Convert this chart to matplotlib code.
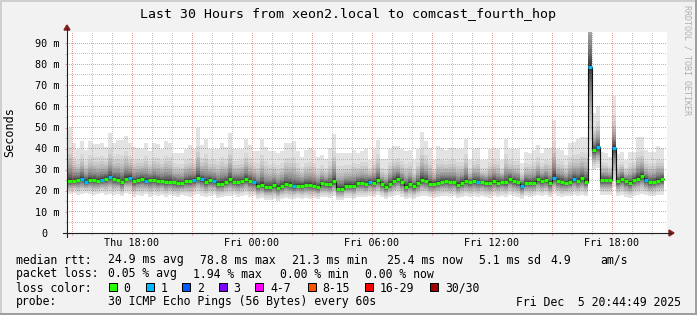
import numpy as np
import matplotlib
matplotlib.use("Agg")
import matplotlib.pyplot as plt
from matplotlib import transforms
from matplotlib.patches import Rectangle, Polygon
from matplotlib.lines import Line2D

plt.rcParams['font.family'] = 'DejaVu Sans Mono'

# median rtt per 12 minute step (ms)
median_ms = [
    24.6, 24.6, 25.1, 25.7, 24.3, 25.1, 25.1, 24.8, 25.1, 25.6,
    26.4, 25.4, 25.1, 24.0, 25.7, 26.2, 24.5, 25.0, 25.6, 24.8,
    25.1, 25.1, 24.5, 24.6, 24.2, 24.3, 24.0, 23.7, 23.5, 24.6,
    24.6, 25.0, 25.9, 25.4, 24.2, 25.0, 24.5, 23.4, 23.4, 24.2,
    25.4, 24.2, 24.2, 24.6, 25.4, 24.5, 24.0, 22.3, 22.8, 21.6,
    21.6, 22.6, 21.5, 22.3, 23.2, 22.8, 22.1, 22.4, 22.4, 22.8,
    22.8, 22.3, 21.8, 23.5, 23.2, 23.0, 24.5, 21.0, 21.0, 22.4,
    22.4, 22.4, 23.7, 23.7, 23.2, 24.3, 23.8, 25.1, 23.2, 21.9,
    23.2, 24.8, 25.7, 24.0, 21.9, 23.2, 22.1, 23.5, 25.1, 24.8,
    23.4, 23.4, 23.8, 24.3, 24.6, 24.3, 24.2, 22.9, 23.7, 24.6,
    24.0, 24.6, 24.3, 24.2, 23.8, 23.7, 24.6, 23.8, 24.2, 24.0,
    25.4, 24.5, 24.0, 22.3, 23.8, 23.8, 23.8, 25.4, 24.6, 25.1,
    23.5, 26.2, 24.8, 24.2, 23.8, 24.2, 25.6, 24.8, 25.9, 24.3,
    78.8, 39.3, 40.6, 25.0, 25.0, 25.0, 40.4, 24.5, 25.6, 24.5,
    23.7, 25.1, 25.7, 27.0, 25.1, 24.0, 24.3, 24.8, 25.4,
]

# slowest and fastest ping of each step (top / bottom of the smoke)
smoke_hi = [
    49.6, 42.8, 40.0, 43.7, 39.5, 43.7, 42.0, 42.0, 42.8, 40.9,
    47.5, 42.8, 44.2, 44.2, 46.1, 42.5, 40.6, 40.5, 40.0, 42.8,
    39.0, 42.5, 42.0, 40.0, 43.7, 42.8, 38.0, 38.0, 38.0, 40.0,
    41.5, 40.0, 49.9, 41.5, 44.7, 40.0, 40.0, 40.0, 42.8, 40.9,
    47.5, 40.0, 40.0, 40.0, 44.7, 41.5, 39.0, 39.0, 44.7, 40.9,
    39.0, 39.0, 38.0, 39.0, 42.8, 42.8, 43.7, 39.0, 36.2, 39.3,
    40.1, 39.3, 36.2, 37.0, 34.9, 40.1, 47.0, 38.1, 38.1, 37.7,
    38.1, 39.3, 37.7, 39.0, 39.6, 34.6, 39.6, 44.1, 34.9, 34.9,
    39.6, 41.2, 41.2, 39.6, 38.8, 39.3, 34.6, 39.6, 48.0, 43.6,
    40.4, 34.6, 41.2, 40.4, 39.3, 40.4, 40.4, 39.6, 39.6, 44.8,
    34.6, 39.6, 40.4, 34.6, 34.6, 39.6, 40.4, 39.6, 34.6, 44.8,
    39.6, 39.6, 39.6, 33.0, 38.5, 38.0, 39.3, 41.7, 37.7, 40.1,
    40.1, 53.5, 39.8, 39.5, 37.1, 42.6, 43.3, 44.8, 45.6, 45.6,
    140.0, 56.7, 60.2, 38.5, 38.0, 35.8, 64.9, 37.5, 38.5, 34.6,
    38.5, 38.5, 45.6, 45.6, 39.5, 38.5, 38.5, 41.2, 40.1,
]
smoke_lo = [
    18.5, 19.0, 18.0, 18.5, 19.0, 18.5, 18.0, 18.5, 19.0, 18.0,
    18.5, 18.0, 18.5, 17.5, 19.0, 18.5, 17.0, 18.0, 17.5, 18.5,
    17.0, 18.0, 17.5, 18.0, 17.0, 18.0, 17.5, 17.0, 18.0, 17.5,
    17.0, 18.0, 18.5, 17.5, 17.0, 17.5, 18.0, 16.5, 17.0, 17.5,
    17.5, 18.0, 17.0, 17.5, 18.0, 17.0, 17.5, 16.0, 16.5, 15.5,
    15.5, 16.0, 15.0, 16.0, 16.5, 16.0, 16.0, 16.5, 16.0, 16.5,
    16.0, 16.5, 16.0, 17.0, 17.0, 16.5, 17.5, 15.5, 15.5, 16.5,
    16.5, 16.0, 17.0, 17.0, 17.0, 17.5, 17.0, 18.0, 17.0, 16.0,
    17.0, 17.5, 18.0, 17.0, 16.0, 16.5, 16.0, 17.0, 17.5, 17.5,
    17.0, 16.5, 17.0, 17.5, 17.5, 17.0, 17.5, 16.5, 17.0, 17.5,
    17.0, 17.5, 17.0, 17.5, 17.0, 16.5, 17.5, 17.0, 17.5, 17.0,
    18.0, 17.5, 17.0, 16.0, 17.5, 17.0, 17.5, 18.0, 17.5, 18.0,
    17.0, 18.5, 17.5, 17.0, 17.5, 17.5, 18.0, 17.5, 18.0, 17.5,
    36.0, 30.0, 31.0, 18.0, 18.0, 18.0, 22.0, 17.5, 18.0, 17.0,
    16.5, 17.5, 18.0, 18.5, 18.0, 17.5, 17.5, 18.0, 18.0,
]

# steps that lost 1 of 30 pings (drawn blue)
loss_one_steps = [3, 4, 8, 10, 15, 19, 31, 33, 36, 46, 56, 75, 102, 113,
                  121, 126, 130, 132, 136, 144]

# how far each ping pair sits between median and extreme (outer -> inner)
smoke_up_frac = [1.0, 0.64, 0.52, 0.43, 0.36, 0.30, 0.25, 0.21, 0.17, 0.14,
                 0.11, 0.08, 0.06, 0.04, 0.02]
smoke_dn_frac = [1.0, 0.82, 0.70, 0.60, 0.52, 0.45, 0.38, 0.32, 0.27, 0.22,
                 0.17, 0.13, 0.09, 0.05, 0.02]

tick_labels = ["Thu 18:00", "Fri 00:00", "Fri 06:00", "Fri 12:00", "Fri 18:00"]
loss_names = ["0", "1", "2", "3", "4-7", "8-15", "16-29", "30/30"]
loss_colors = ["#26ff00", "#00b8ff", "#0059ff", "#7e00ff", "#ff00ff",
               "#ff5500", "#ff0000", "#a10000"]

# time axis: hours since graph start (Thu 14:44:49), 12 minute steps
first_boundary = 0.0531      # 14:48
first_hour = 0.2531          # 15:00
step_h = 0.2
span_h = 30.0
y_top = 95.3

W, H = 697, 315
X0, X1, Y0, YT = 67, 667, 233, 32

def fx(x):
    return x / W

def fy(y):
    return 1 - y / H

fig = plt.figure(figsize=(W / 100, H / 100), dpi=100, facecolor='#f2f2f2')
ax = fig.add_axes([fx(X0), fy(Y0), (X1 - X0) / W, (Y0 - YT) / H])
ax.set_facecolor('white')
for s in ax.spines.values():
    s.set_visible(False)

med = np.array(median_ms)
hi = np.array(smoke_hi)
lo = np.array(smoke_lo)
n = len(med)
edges = first_boundary + step_h * np.arange(n + 1)
edges[0] = 0.0

# smoke
for i in range(15):
    g = (190 / 15 * (15 - (i + 1)) + 50) / 255
    up = med + smoke_up_frac[i] * (hi - med)
    dn = med - smoke_dn_frac[i] * (med - lo)
    ax.fill_between(edges, np.append(dn, dn[-1]), np.append(up, up[-1]),
                    step='post', color=(g, g, g), lw=0, antialiased=False,
                    zorder=1)

# dotted grid, pixel exact (1 on / 1 off)
gh, gw = Y0 - YT, X1 - X0
grid_rgba = np.zeros((gh, gw, 4))
minor_c = (0.56, 0.56, 0.56, 0.5)
major_c = (0.87, 0.31, 0.31, 0.55)
x_major = np.arange(first_hour, span_h, 3)
x_minor = np.arange(first_hour, span_h, 1)
for v in np.arange(5, 95, 10):
    grid_rgba[int((y_top - v) / y_top * gh), ::2] = minor_c
for t in x_minor:
    grid_rgba[1::2, int(t / span_h * gw)] = minor_c
for v in np.arange(10, 95, 10):
    grid_rgba[int((y_top - v) / y_top * gh), ::2] = major_c
for t in x_major:
    grid_rgba[1::2, int(t / span_h * gw)] = major_c
ax.imshow(grid_rgba, extent=(0, span_h, 0, y_top), aspect='auto',
          interpolation='nearest', zorder=1.5)

# median: thin dark step line, then colored bands per step
ax.plot(edges, np.append(med, med[-1]), drawstyle='steps-post',
        color='#101010', lw=0.8, zorder=2)
cols = [loss_colors[1] if k in loss_one_steps else loss_colors[0] for k in range(n)]
ax.hlines(med, edges[:-1], edges[1:], colors=cols, lw=2.2, zorder=3,
          capstyle='butt')

ax.set_xlim(0, span_h)
ax.set_ylim(0, y_top)
ax.set_xticks(x_major)
ax.set_xticks(x_minor, minor=True)
ax.set_yticks(np.arange(0, 95, 10))
ax.set_yticks(np.arange(5, 95, 10), minor=True)
ax.tick_params(which='both', direction='out', length=1.6, width=0.72,
               labelbottom=False, labelleft=False)
ax.tick_params(which='major', color=major_c)
ax.tick_params(which='minor', color=minor_c)

# axes with arrows
fig.add_artist(Line2D([fx(X0 - 4), fx(X1 + 4)], [fy(Y0), fy(Y0)],
                      color='#1f1f1f', lw=0.8))
fig.add_artist(Line2D([fx(X0), fx(X0)], [fy(Y0 + 4), fy(YT - 4)],
                      color='#1f1f1f', lw=0.8))
arrow_c = (0.5, 0.12, 0.12)
fig.add_artist(Polygon([(fx(X1 + 2), fy(Y0 - 3)), (fx(X1 + 2), fy(Y0 + 3)),
                        (fx(X1 + 7), fy(Y0))], closed=True, color=arrow_c,
                       transform=fig.transFigure))
fig.add_artist(Polygon([(fx(X0 - 3), fy(YT - 2)), (fx(X0 + 3), fy(YT - 2)),
                        (fx(X0), fy(YT - 7))], closed=True, color=arrow_c,
                       transform=fig.transFigure))

# y tick labels
ytr = transforms.offset_copy(
    transforms.blended_transform_factory(fig.transFigure, ax.transData),
    fig=fig, x=0, y=-3.6, units='dots')
for v in range(0, 95, 10):
    if v == 0:
        fig.text(fx(47.8), v, "0", ha='right', va='baseline', fontsize=7.3,
                 transform=ytr)
    else:
        fig.text(fx(59.8), v, "%d m" % v, ha='right', va='baseline',
                 fontsize=7.3, transform=ytr)

# x tick labels
xtr = transforms.blended_transform_factory(ax.transData, fig.transFigure)
for t, lab in zip(np.arange(first_hour + 3, span_h, 6), tick_labels):
    fig.text(t, fy(246), lab, ha='center', va='baseline', fontsize=7.3,
             transform=xtr)

fig.text(fx(348.5), fy(18.3), "Last 30 Hours from xeon2.local to comcast_fourth_hop",
         ha='center', va='baseline', fontsize=9.5)
fig.text(fx(10), fy(132), "Seconds", rotation=90, ha='center', va='center',
         fontsize=8.5)
fig.text(fx(687.5), fy(5), "RRDTOOL / TOBI OETIKER", rotation=270,
         ha='center', va='top', fontsize=6, color='#b0b0b0')

# legend
lf = 8.3
line1 = [("median rtt:", 16), ("24.9 ms avg", 107.5), ("78.8 ms max", 200),
         ("21.3 ms min", 292.5), ("25.4 ms now", 386.5), ("5.1 ms sd", 479),
         ("4.9", 550), ("am/s", 600)]
line2 = [("packet loss:", 16), ("0.05 % avg", 107.5), ("1.94 % max", 193.5),
         ("0.00 % min", 279.5), ("0.00 % now", 365)]
for s, x in line1:
    fig.text(fx(x), fy(263.5), s, ha='left', va='baseline', fontsize=lf)
for s, x in line2:
    fig.text(fx(x), fy(277.5), s, ha='left', va='baseline', fontsize=lf)
fig.text(fx(16), fy(291.5), "loss color:", ha='left', va='baseline', fontsize=lf)
box_x = [108.5, 145.5, 182, 218.5, 255, 307.5, 365, 430]
for bx, name, c in zip(box_x, loss_names, loss_colors):
    fig.add_artist(Rectangle((fx(bx), fy(290.5)), 8 / W, 8 / H,
                             transform=fig.transFigure, facecolor=c,
                             edgecolor='black', lw=0.72))
    fig.text(fx(bx + 15), fy(291.5), name, ha='left', va='baseline', fontsize=lf)
fig.text(fx(16), fy(305.5), "probe:", ha='left', va='baseline', fontsize=lf)
fig.text(fx(107.5), fy(305.5), "30 ICMP Echo Pings (56 Bytes) every 60s",
         ha='left', va='baseline', fontsize=lf)
fig.text(fx(681), fy(305.5), "Fri Dec  5 20:44:49 2025", ha='right',
         va='baseline', fontsize=lf)

# 3d frame
fig.add_artist(Rectangle((0, fy(2)), 1, 2 / H, transform=fig.transFigure,
                         color='#cfcfcf', lw=0))
fig.add_artist(Rectangle((0, 0), 2 / W, 1, transform=fig.transFigure,
                         color='#cfcfcf', lw=0))
fig.add_artist(Rectangle((0, 0), 1, 2 / H, transform=fig.transFigure,
                         color='#9e9e9e', lw=0))
fig.add_artist(Rectangle((fx(W - 2), 0), 2 / W, 1, transform=fig.transFigure,
                         color='#9e9e9e', lw=0))

fig.savefig("out.png", dpi=100, facecolor=fig.get_facecolor())
